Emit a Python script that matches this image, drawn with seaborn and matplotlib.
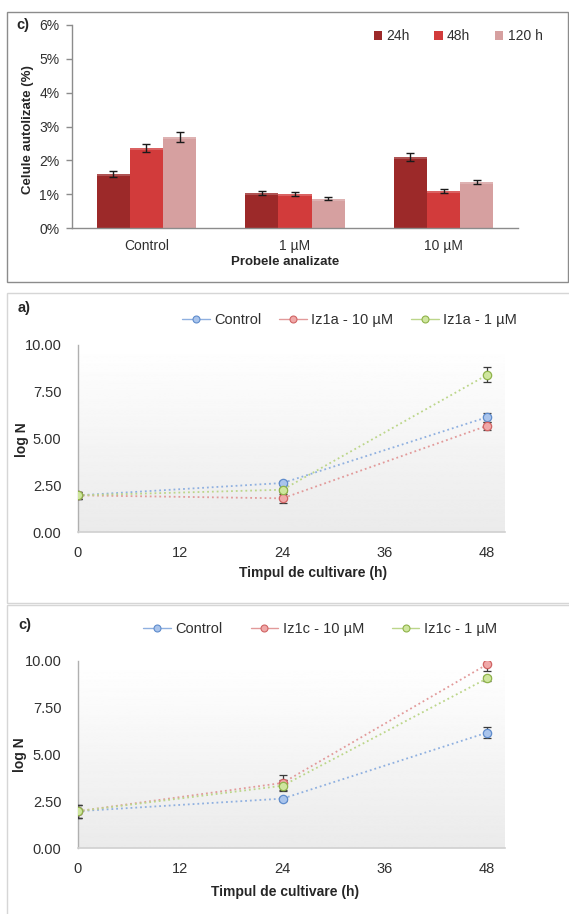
import numpy as np
import pandas as pd
import matplotlib
matplotlib.use("Agg")
import matplotlib.pyplot as plt
from matplotlib.patches import Rectangle
from matplotlib.lines import Line2D
import seaborn as sns

sns.set_theme(style="white")
plt.rcParams["font.family"] = ["Liberation Sans", "DejaVu Sans"]

# ---- autolysis data (bar chart) ----
samples = ["Control", "1 µM", "10 µM"]
times = ["24h", "48h", "120 h"]
lysis_24h = [1.60, 1.04, 2.09]
lysis_48h = [2.36, 1.01, 1.09]
lysis_120h = [2.69, 0.87, 1.37]
lysis_err_24h = [0.08, 0.05, 0.12]
lysis_err_48h = [0.11, 0.06, 0.06]
lysis_err_120h = [0.14, 0.04, 0.06]
bar_colors = ["#9c2929", "#d23b3b", "#d6a0a0"]

# ---- growth curves (log N) ----
hours = [0, 24, 48]
a_series = ["Control", "Iz1a - 10 µM", "Iz1a - 1 µM"]
a_control = [1.96, 2.62, 6.14]
a_iz10 = [1.96, 1.80, 5.68]
a_iz1 = [1.96, 2.26, 8.40]
a_control_err = [0.2, 0.1, 0.25]
a_iz10_err = [0.2, 0.25, 0.2]
a_iz1_err = [0.2, 0.1, 0.4]

c_series = ["Control", "Iz1c - 10 µM", "Iz1c - 1 µM"]
c_control = [1.97, 2.64, 6.17]
c_iz10 = [1.97, 3.48, 9.82]
c_iz1 = [1.97, 3.33, 9.07]
c_control_err = [0.35, 0.1, 0.28]
c_iz10_err = [0.35, 0.4, 0.35]
c_iz1_err = [0.35, 0.3, 0.15]

line_colors = ["#8fb0e0", "#e29a9a", "#bcd68a"]
marker_faces = ["#a9c4ec", "#f0a8a8", "#cfe69e"]
marker_edges = ["#5f8ccc", "#d06464", "#8fb34a"]

W, H = 569, 914
fig = plt.figure(figsize=(W / 100, H / 100), dpi=100)


def box(l, t, r, b):
    return [l / W, 1 - b / H, (r - l) / W, (b - t) / H]


def fy(y):
    return 1 - y / H


# panel frames
fig.patches.append(Rectangle((7 / W, fy(282)), (568 - 7) / W, (282 - 12) / H,
                             transform=fig.transFigure, fill=False,
                             edgecolor="#8c8c8c", lw=1.0))
fig.patches.append(Rectangle((7 / W, fy(603)), (570 - 7) / W, (603 - 293) / H,
                             transform=fig.transFigure, fill=False,
                             edgecolor="#d6d6d6", lw=1.0))
fig.patches.append(Rectangle((7 / W, fy(916)), (570 - 7) / W, (916 - 605) / H,
                             transform=fig.transFigure, fill=False,
                             edgecolor="#d6d6d6", lw=1.0))

TXT = "#303030"

# ================= bar chart =================
ax1 = fig.add_axes(box(72, 25, 518, 228))
df_bar = pd.DataFrame({
    "sample": samples * 3,
    "time": [times[0]] * 3 + [times[1]] * 3 + [times[2]] * 3,
    "value": lysis_24h + lysis_48h + lysis_120h,
})
sns.barplot(data=df_bar, x="sample", y="value", hue="time", hue_order=times,
            order=samples, palette=bar_colors, saturation=1, width=0.67,
            errorbar=None, edgecolor="none", linewidth=0, ax=ax1, legend=False)
errs = [lysis_err_24h, lysis_err_48h, lysis_err_120h]
vals = [lysis_24h, lysis_48h, lysis_120h]
for cont, vv, ee in zip(ax1.containers, vals, errs):
    xs = [p.get_x() + p.get_width() / 2 for p in cont.patches]
    ax1.errorbar(xs, vv, yerr=ee, fmt="none", ecolor="#1a1a1a",
                 elinewidth=1.0, capsize=3, capthick=1.0, zorder=5)
    for p in cont.patches:
        # light rim along the top of each bar
        ax1.add_patch(Rectangle((p.get_x(), p.get_height() - 0.06), p.get_width(), 0.06,
                                facecolor="white", alpha=0.2, lw=0, zorder=3))

ax1.set_ylim(0, 6)
ax1.set_xlim(-0.5, 2.5)
ax1.set_yticks(np.arange(0, 7, 1))
ax1.set_yticklabels([f"{v}%" for v in range(7)])
ax1.set_xticks(range(3))
ax1.set_xticklabels(samples)
ax1.set_xticks([-0.5, 0.5, 1.5, 2.5], minor=True)
ax1.tick_params(axis="x", which="major", length=0, pad=8, labelsize=10, labelcolor=TXT)
ax1.tick_params(axis="x", which="minor", length=4, color="#8c8c8c", width=1, direction="out")
ax1.tick_params(axis="y", length=4, color="#8c8c8c", width=1, direction="out",
                labelsize=10, labelcolor=TXT, pad=5, left=True)
for s in ["top", "right"]:
    ax1.spines[s].set_visible(False)
for s in ["left", "bottom"]:
    ax1.spines[s].set_color("#8c8c8c")
    ax1.spines[s].set_linewidth(1.0)
ax1.set_xlabel("")
ax1.set_ylabel("")
ax1.set_facecolor("white")

leg_handles = [Rectangle((0, 0), 1, 1, facecolor=c, edgecolor="none") for c in bar_colors]
ax1.legend(leg_handles, times, ncol=3, frameon=False, loc="center right",
           bbox_to_anchor=(555 / W, fy(36)), bbox_transform=fig.transFigure,
           handlelength=0.6, handleheight=0.6, handletextpad=0.3, columnspacing=1.8,
           prop={"size": 10}, labelcolor=TXT)

fig.text(16 / W, fy(25), "c)", fontsize=10.5, fontweight="bold", va="center", ha="left")
fig.text(28 / W, fy(130), "Celule autolizate (%)", fontsize=9.5, fontweight="bold",
         rotation=90, va="center", ha="center")
fig.text(285 / W, fy(262), "Probele analizate", fontsize=9.5, fontweight="bold",
         va="center", ha="center")


# ================= growth curves =================
def growth_panel(rect, series_names, ys, errs_, tag, tag_y, ylab_x, ylab_y,
                 xlab_x, xlab_y, leg_right, leg_y, colspace):
    ax = fig.add_axes(box(*rect))
    # soft vertical gradient in the plotting area
    grad = np.linspace(0.92, 1.0, 256).reshape(-1, 1)
    ax.imshow(grad, extent=[0, 50.1, 0, 10], aspect="auto", cmap="gray",
              vmin=0, vmax=1, origin="lower", zorder=0)
    rows = []
    for name, yv in zip(series_names, ys):
        for h, v in zip(hours, yv):
            rows.append({"h": h, "logN": v, "series": name})
    df = pd.DataFrame(rows)
    sns.lineplot(data=df, x="h", y="logN", hue="series", hue_order=series_names,
                 palette=line_colors, ax=ax, legend=False, linestyle=":",
                 linewidth=1.3, zorder=2)
    for i, (yv, ev) in enumerate(zip(ys, errs_)):
        ax.errorbar(hours, yv, yerr=ev, fmt="none", ecolor="#3a3a3a",
                    elinewidth=0.9, capsize=3, capthick=0.9, zorder=3)
        ax.plot(hours, yv, ls="none", marker="o", ms=6, mfc=marker_faces[i],
                mec=marker_edges[i], mew=0.9, zorder=4)
    ax.set_xlim(0, 50.1)
    ax.set_ylim(0, 10)
    ax.set_xticks([0, 12, 24, 36, 48])
    ax.set_yticks([0, 2.5, 5, 7.5, 10])
    ax.set_yticklabels([f"{v:.2f}" for v in [0, 2.5, 5, 7.5, 10]])
    ax.tick_params(axis="both", length=0, labelsize=10.5, labelcolor=TXT)
    ax.tick_params(axis="x", pad=10)
    ax.tick_params(axis="y", pad=12)
    for s in ["top", "right"]:
        ax.spines[s].set_visible(False)
    ax.spines["left"].set_color("#b0b0b0")
    ax.spines["bottom"].set_color("#d0d0d0")
    ax.spines["left"].set_linewidth(1.0)
    ax.spines["bottom"].set_linewidth(1.2)
    ax.set_xlabel("")
    ax.set_ylabel("")
    handles = [Line2D([0], [0], color=line_colors[i], lw=1.0, marker="o", ms=5,
                      mfc=marker_faces[i], mec=marker_edges[i], mew=0.8)
               for i in range(3)]
    ax.legend(handles, series_names, ncol=3, frameon=False, loc="center right",
              bbox_to_anchor=(leg_right / W, fy(leg_y)), bbox_transform=fig.transFigure,
              handlelength=1.9, handletextpad=0.3, columnspacing=colspace,
              prop={"size": 10.5}, labelcolor=TXT)
    fig.text(18 / W, fy(tag_y), tag, fontsize=10.5, fontweight="bold", va="center", ha="left")
    fig.text(ylab_x / W, fy(ylab_y), "log N", fontsize=10, fontweight="bold",
             rotation=90, va="center", ha="center")
    fig.text(xlab_x / W, fy(xlab_y), "Timpul de cultivare (h)", fontsize=10,
             fontweight="bold", va="center", ha="center")
    return ax


growth_panel((78, 345, 505, 532), a_series, [a_control, a_iz10, a_iz1],
             [a_control_err, a_iz10_err, a_iz1_err], "a)", 308, 22, 440,
             313, 573, 530, 320, 1.2)
growth_panel((78, 661, 505, 848), c_series, [c_control, c_iz10, c_iz1],
             [c_control_err, c_iz10_err, c_iz1_err], "c)", 625, 20, 755,
             285, 892, 510, 629, 1.9)

fig.savefig("out.png", dpi=100)
